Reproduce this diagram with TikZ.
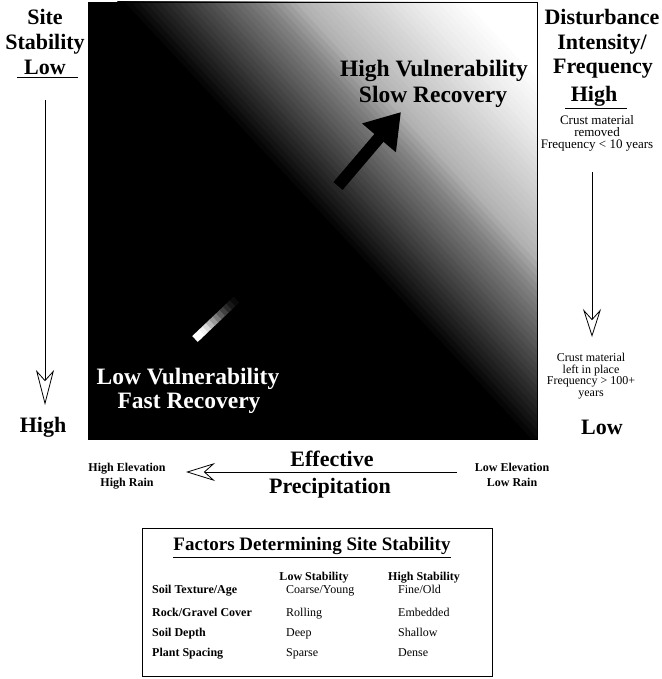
\documentclass[tikz,border=0pt]{standalone}
\usepackage{fontspec}
\setmainfont{Liberation Serif}
\usetikzlibrary{arrows.meta,calc}

\begin{document}
\begin{tikzpicture}[x=1pt,y=-1pt,
	hd/.style={font=\fontsize{22}{24}\selectfont\bfseries, inner sep=0pt, anchor=base},
	vul/.style={font=\fontsize{23.5}{26}\selectfont\bfseries, inner sep=0pt, anchor=base},
	note/.style={inner sep=0pt, anchor=north, align=center},
	elev/.style={font=\fontsize{12}{13}\selectfont\bfseries, inner sep=0pt, anchor=base},
	colhd/.style={font=\fontsize{12}{13}\selectfont\bfseries, inner sep=0pt, anchor=base},
	rowlab/.style={font=\fontsize{12}{13}\selectfont\bfseries, inner sep=0pt, anchor=base west},
	cell/.style={font=\fontsize{12}{13}\selectfont, inner sep=0pt, anchor=base west},
	openarr/.style={line width=0.8pt, -{Stealth[open,width=18pt,length=#1,inset=10pt]}}]
	\useasboundingbox (0,0) rectangle (661,679);

	% shaded square
	\begin{scope}
		\clip (88,2) rectangle (537,439);
		\fill[black] (88,2) rectangle (537,439);
		\foreach \p in {85,90,...,335}{
			\pgfmathsetmacro{\g}{\p<188 ? 100-(\p-85)*0.485 : (\p<216 ? 50-(\p-188)*0.714 : (\p<300 ? 30-(\p-216)*0.262 : max(0,8-(\p-300)*0.2)))}
			\fill[black!\g] ({0.73*\p-544},{-0.68*\p-584}) -- ({0.73*\p+544},{-0.68*\p+584})
				-- ({0.73*\p+548.38},{-0.68*\p+579.92}) -- ({0.73*\p-539.62},{-0.68*\p-588.08}) -- cycle;
		}
		\fill[white] (-295.8,-815.2) -- (792.2,352.8) -- (1274,-96) -- (186,-1264) -- cycle;
	\end{scope}
	\draw[line width=0.8pt] (88,2) rectangle (537,439);

	\coordinate (a1) at (338,186);
	\coordinate (a2) at (401,112);
	\draw[line width=12pt, -{Triangle[width=42pt,length=34pt]}] (a1) -- (a2);

	\coordinate (b1) at (195,339);
	\coordinate (b2) at (236,300);
	\foreach \w [count=\i from 0] in {100,100,95,85,72,60,48,36,25,16,9,4}{
		\pgfmathsetmacro{\ta}{\i/12}
		\pgfmathsetmacro{\tb}{(\i+1.1)/12}
		\draw[white!\w!black, line width=8pt] ($(b1)!\ta!(b2)$) -- ($(b1)!\tb!(b2)$);
	}

	\node[vul] (hv) at (434,77) {High Vulnerability};
	\node[vul] (sr) at (433,103) {Slow Recovery};
	\node[vul, text=white] (lv) at (188,384) {Low Vulnerability};
	\node[vul, text=white] (fr) at (189,408) {Fast Recovery};

	% left side
	\node[hd] (site) at (45,25) {Site};
	\node[hd] (stab) at (45,50) {Stability};
	\node[hd] (lowL) at (45,75) {Low};
	\draw[line width=1pt] ($(lowL.base)+(-28,3)$) -- ($(lowL.base)+(33,3)$);
	\node[hd] (highL) at (43,432) {High};
	\draw[openarr=35pt] ($(lowL.base)+(0,25)$) -- ($(lowL.base |- highL.base)+(0,-27)$);

	% right side
	\node[hd] (dist) at (602,25) {Disturbance};
	\node[hd] (inten) at (602,50) {Intensity/};
	\node[hd] (freq) at (603,74) {Frequency};
	\node[hd] (highR) at (594,102) {High};
	\draw[line width=1pt] ($(highR.base)+(-29,7)$) -- ($(highR.base)+(33,7)$);
	\node[note, font=\fontsize{13}{12}\selectfont] (rem) at (597,115) {Crust material\\removed\\Frequency < 10 years};
	\coordinate (r1) at (592,172);
	\coordinate (r2) at (592,337);
	\draw[openarr=28pt] (r1) -- (r2);
	\node[note, font=\fontsize{12}{11.5}\selectfont] (kept) at (591,353) {Crust material\\left in place\\Frequency > 100+\\years};
	\node[hd] (lowR) at (602,434) {Low};

	% bottom
	\node[elev] (hel) at (127,471) {High Elevation};
	\node[elev] (hra) at (127,486) {High Rain};
	\node[elev] (lel) at (512,471) {Low Elevation};
	\node[elev] (lra) at (512,486) {Low Rain};
	\node[hd] (eff) at (332,466) {Effective};
	\node[hd] (prec) at (330,493) {Precipitation};
	\coordinate (p1) at (457,472);
	\coordinate (p2) at (186,472);
	\draw[openarr=29pt] (p1) -- (p2);

	% table
	\draw[line width=0.8pt] (142,528) rectangle (492,676);
	\node[font=\fontsize{19}{21}\selectfont\bfseries, inner sep=0pt, anchor=base] (fac) at (312,550) {Factors Determining Site Stability};
	\draw[line width=1pt] ($(fac.base west)+(0,7)$) -- ($(fac.base east)+(0,7)$);
	\node[colhd] (lost) at (314,580) {Low Stability};
	\node[colhd] (hist) at (424,580) {High Stability};

	\node[rowlab] (tex) at (152,593) {Soil Texture/Age};
	\node[cell] (tex1) at (286,593) {Coarse/Young};
	\node[cell] (tex2) at (398,593) {Fine/Old};

	\node[rowlab] (rock) at (152,616) {Rock/Gravel Cover};
	\node[cell] (rock1) at (286,616) {Rolling};
	\node[cell] (rock2) at (398,616) {Embedded};

	\node[rowlab] (dep) at (152,636) {Soil Depth};
	\node[cell] (dep1) at (286,636) {Deep};
	\node[cell] (dep2) at (398,636) {Shallow};

	\node[rowlab] (spa) at (152,656) {Plant Spacing};
	\node[cell] (spa1) at (286,656) {Sparse};
	\node[cell] (spa2) at (398,656) {Dense};
\end{tikzpicture}
\end{document}
